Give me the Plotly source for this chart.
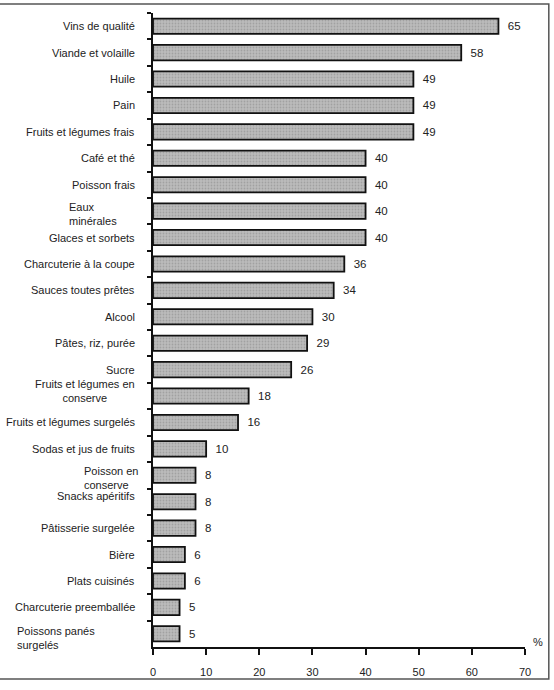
import plotly.graph_objects as go

categories = [
    "Vins de qualité", "Viande et volaille", "Huile", "Pain",
    "Fruits et légumes frais", "Café et thé", "Poisson frais",
    "Eaux<br>minérales", "Glaces et sorbets", "Charcuterie à la coupe",
    "Sauces toutes prêtes", "Alcool", "Pâtes, riz, purée", "Sucre",
    "Fruits et légumes en<br>conserve", "Fruits et légumes surgelés",
    "Sodas et jus de fruits", "Poisson en<br>conserve", "Snacks apéritifs",
    "Pâtisserie surgelée", "Bière", "Plats cuisinés",
    "Charcuterie preemballée", "Poissons panés<br>surgelés",
]
values = [65, 58, 49, 49, 49, 40, 40, 40, 40, 36, 34, 30, 29, 26, 18, 16,
          10, 8, 8, 8, 6, 6, 5, 5]
x_ticks = [0, 10, 20, 30, 40, 50, 60, 70]

# label placement style (paper x, anchor, align, yshift) for special labels
label_style = {
    "Eaux<br>minérales": (-0.23, "left", "left", -3),
    "Fruits et légumes en<br>conserve": (-0.043, "right", "center", 5),
    "Poisson en<br>conserve": (-0.19, "left", "left", -3),
    "Snacks apéritifs": (-0.043, "right", "right", 6),
    "Poissons panés<br>surgelés": (-0.37, "left", "left", -4),
}

FONT = "Liberation Sans, Arial, sans-serif"
n = len(categories)

fig = go.Figure()
fig.add_trace(go.Bar(
    y=categories, x=values, orientation="h",
    width=0.58,
    marker=dict(color="#b5b5b5", line=dict(color="#111", width=1.8),
                pattern=dict(shape=".", fgcolor="#858585", bgcolor="#bcbcbc",
                             size=3, solidity=0.3)),
    text=[f"  {v}" for v in values], textposition="outside",
    textfont=dict(family=FONT, size=11.5, color="#222"),
    cliponaxis=False, showlegend=False,
))

annotations = []
for c in categories:
    x, xa, al, ys = label_style.get(c, (-0.043, "right", "right", 0))
    annotations.append(dict(
        x=x, xref="paper", y=c, yref="y", xanchor=xa, align=al,
        yshift=ys, text=c, showarrow=False,
        font=dict(family=FONT, size=11, color="#222")))
annotations.append(dict(x=1.015, xref="paper", y=0.008, yref="paper",
                        xanchor="left", yanchor="middle", text="%",
                        showarrow=False,
                        font=dict(family=FONT, size=11, color="#222")))

fig.update_layout(
    width=554, height=690,
    margin=dict(l=153, r=29, t=13, b=43),
    paper_bgcolor="white", plot_bgcolor="white",
    font=dict(family=FONT, size=11, color="#222"),
    xaxis=dict(range=[0, 70], tickvals=x_ticks, ticks="outside", ticklen=6,
               tickwidth=1.6, tickcolor="#111", showline=True,
               linecolor="#111", linewidth=1.6, showgrid=False,
               zeroline=False, ticklabelstandoff=8,
               tickfont=dict(family=FONT, size=11, color="#222")),
    xaxis2=dict(range=[0, 70], tickvals=x_ticks, ticks="inside", ticklen=6,
                tickwidth=1.6, tickcolor="#111", overlaying="x", anchor="y",
                side="bottom", showticklabels=False, showgrid=False,
                zeroline=False, showline=False),
    yaxis=dict(range=[n - 0.5, -0.5], showticklabels=False, ticks="outside",
               tickson="boundaries", ticklen=4, tickwidth=1.5,
               tickcolor="#111", showline=True, linecolor="#111",
               linewidth=1.6, showgrid=False, zeroline=False),
    yaxis2=dict(range=[n - 0.5, -0.5], type="linear",
                tickvals=[i - 0.5 for i in range(n + 1)], ticks="inside",
                ticklen=5, tickwidth=1.5, tickcolor="#111", overlaying="y",
                anchor="x", side="left", showticklabels=False,
                showgrid=False, zeroline=False, showline=False),
    bargap=0.42,
    annotations=annotations,
    shapes=[dict(type="rect", xref="paper", yref="paper",
                 x0=-0.45, x1=1.064, y0=-0.0505, y1=1.0142,
                 line=dict(color="#555", width=1.5))],
)

fig.write_html("out.html")
